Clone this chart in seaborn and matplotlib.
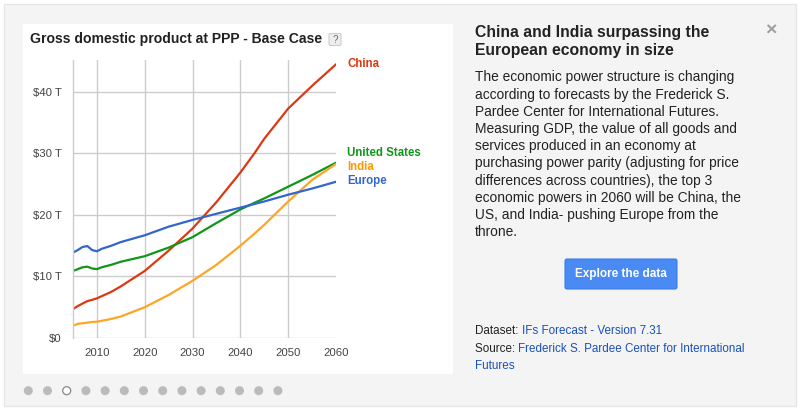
import numpy as np
import pandas as pd
import matplotlib
matplotlib.use("Agg")
import matplotlib.pyplot as plt
from matplotlib.patches import Rectangle, FancyBboxPatch, Circle
import seaborn as sns

# ---------------- data ----------------
years = [2005, 2006, 2007, 2008, 2009, 2010, 2011, 2013, 2015, 2020, 2025,
         2030, 2035, 2040, 2043, 2045, 2050, 2055, 2060]
china = [4.7, 5.2, 5.6, 6.0, 6.2, 6.45, 6.8, 7.5, 8.4, 10.9, 14.2,
         17.8, 22.1, 26.9, 30.1, 32.4, 37.3, 41.0, 44.5]
united_states = [10.9, 11.2, 11.5, 11.6, 11.3, 11.2, 11.5, 11.9, 12.4, 13.3, 14.7,
                 16.4, 18.7, 20.9, 22.0, 22.7, 24.6, 26.5, 28.5]
india = [2.0, 2.3, 2.4, 2.5, 2.6, 2.65, 2.8, 3.1, 3.5, 5.0, 7.0,
         9.3, 11.9, 15.0, 17.0, 18.4, 22.2, 25.7, 28.3]
europe = [13.9, 14.3, 14.8, 14.95, 14.3, 14.1, 14.5, 15.0, 15.6, 16.7, 18.1,
          19.2, 20.2, 21.2, 21.8, 22.2, 23.3, 24.3, 25.4]

regions = ["China", "United States", "India", "Europe"]
colors = {"China": "#dc3912", "United States": "#109618",
          "India": "#ffa526", "Europe": "#3366cc"}
label_colors = {"China": "#dc3912", "United States": "#109618",
                "India": "#ff9900", "Europe": "#3366cc"}

x_ticks = [2010, 2020, 2030, 2040, 2050, 2060]
y_ticks = [0, 10, 20, 30, 40]
y_tick_labels = ["$0", "$10 T", "$20 T", "$30 T", "$40 T"]

chart_title = "Gross domestic product at PPP - Base Case"
side_title = ["China and India surpassing the", "European economy in size"]
body_lines = [
    "The economic power structure is changing",
    "according to forecasts by the Frederick S.",
    "Pardee Center for International Futures.",
    "Measuring GDP, the value of all goods and",
    "services produced in an economy at",
    "purchasing power parity (adjusting for price",
    "differences across countries), the top 3",
    "economic powers in 2060 will be China, the",
    "US, and India- pushing Europe from the",
    "throne.",
]
button_text = "Explore the data"
dataset_label, dataset_link = "Dataset: ", "IFs Forecast - Version 7.31"
source_label, source_link1, source_link2 = ("Source: ",
                                            "Frederick S. Pardee Center for International",
                                            "Futures")
n_dots = 14
active_dot = 2

df = pd.DataFrame({
    "year": years * 4,
    "gdp": china + united_states + india + europe,
    "region": sum([[r] * len(years) for r in regions], []),
})

# ---------------- figure ----------------
sns.set_theme(style="white")
plt.rcParams["font.family"] = ["Liberation Sans", "DejaVu Sans"]

W, H = 800, 413
fig = plt.figure(figsize=(W / 100, H / 100), dpi=100)
fig.patch.set_facecolor("white")

# background axes in pixel coordinates
bg = fig.add_axes([0, 0, 1, 1], zorder=0)
bg.set_xlim(0, W)
bg.set_ylim(H, 0)
bg.axis("off")

bg.add_patch(Rectangle((4, 4), 792, 402, facecolor="#f4f4f4",
                       edgecolor="#e6e6e6", lw=1))
bg.add_patch(Rectangle((23, 24), 430, 350, facecolor="white", edgecolor="none"))

# chart title + help box
bg.text(30, 39, chart_title, fontsize=10.1, fontweight="bold", color="#222222",
        va="center", ha="left")
bg.add_patch(FancyBboxPatch((329, 33.5), 12, 12,
                            boxstyle="round,pad=0,rounding_size=1.5",
                            facecolor="#eeeeee", edgecolor="#cccccc", lw=0.8))
bg.text(335, 39.8, "?", fontsize=7, color="#666666", ha="center", va="center")

# ---------------- chart ----------------
left, right, top, bottom = 73, 336, 60, 338
ax = fig.add_axes([left / W, 1 - bottom / H, (right - left) / W, (bottom - top) / H],
                  zorder=1)
ax.set_facecolor("none")
sns.lineplot(data=df, x="year", y="gdp", hue="region", hue_order=regions,
             palette=colors, linewidth=1.6, legend=False, ax=ax)
ax.set_xlim(2005, 2060)
ax.set_ylim(0, 45.2)
ax.set_xticks(x_ticks)
ax.set_yticks(y_ticks)
ax.set_yticklabels(y_tick_labels)
ax.set_xlabel("")
ax.set_ylabel("")
ax.tick_params(length=0, labelsize=8.2, labelcolor="#444444", pad=7)
ax.tick_params(axis="y", pad=8)
ax.grid(True, color="#cccccc", lw=1)
ax.set_axisbelow(True)
for s in ["top", "right", "bottom"]:
    ax.spines[s].set_visible(False)
ax.spines["left"].set_color("#cccccc")
ax.spines["left"].set_linewidth(1)
gl = ax.xaxis.get_gridlines()
gl[-1].set_visible(False)

# end labels
label_pos = {"China": 64, "United States": 153, "India": 167, "Europe": 181}
for r in regions:
    bg.text(347, label_pos[r], r, fontsize=8.3, fontweight="bold",
            color=label_colors[r], va="center", ha="left")

# ---------------- side panel ----------------
for i, line in enumerate(side_title):
    bg.text(475, 32.5 + 17.7 * i, line, fontsize=11.3, fontweight="bold",
            color="#222222", va="center", ha="left")
bg.text(771, 31, "\u00d7", fontsize=14, fontweight="bold", color="#a0a0a0",
        ha="center", va="center")
for i, line in enumerate(body_lines):
    bg.text(475, 77.5 + 17.2 * i, line, fontsize=9.9, color="#222222",
            va="center", ha="left")

bg.add_patch(FancyBboxPatch((565, 259), 112, 30,
                            boxstyle="round,pad=0,rounding_size=2",
                            facecolor="#4a8af4", edgecolor="#3b7de9", lw=0.8))
bg.text(621, 274, button_text, fontsize=8.5, fontweight="bold", color="white",
        ha="center", va="center")

link_color = "#1a4fc0"
t1 = bg.text(475, 331, dataset_label, fontsize=8.4, color="#222222", va="center")
bg.annotate(dataset_link, xy=(1, 0.5), xycoords=t1, fontsize=8.4, color=link_color,
            va="center", ha="left")
t2 = bg.text(475, 348.5, source_label, fontsize=8.4, color="#222222", va="center")
bg.annotate(source_link1, xy=(1, 0.5), xycoords=t2, fontsize=8.4, color=link_color,
            va="center", ha="left")
bg.text(475, 366, source_link2, fontsize=8.4, color=link_color, va="center")

# pager dots
for i in range(n_dots):
    cx = 28.3 + 19.2 * i
    if i == active_dot:
        bg.add_patch(Circle((cx, 390.7), 4.0, facecolor="white",
                            edgecolor="#888888", lw=0.9))
    else:
        bg.add_patch(Circle((cx, 390.7), 4.5, facecolor="#bbbbbb",
                            edgecolor="none"))

fig.savefig("out.png", dpi=100, facecolor=fig.get_facecolor())
